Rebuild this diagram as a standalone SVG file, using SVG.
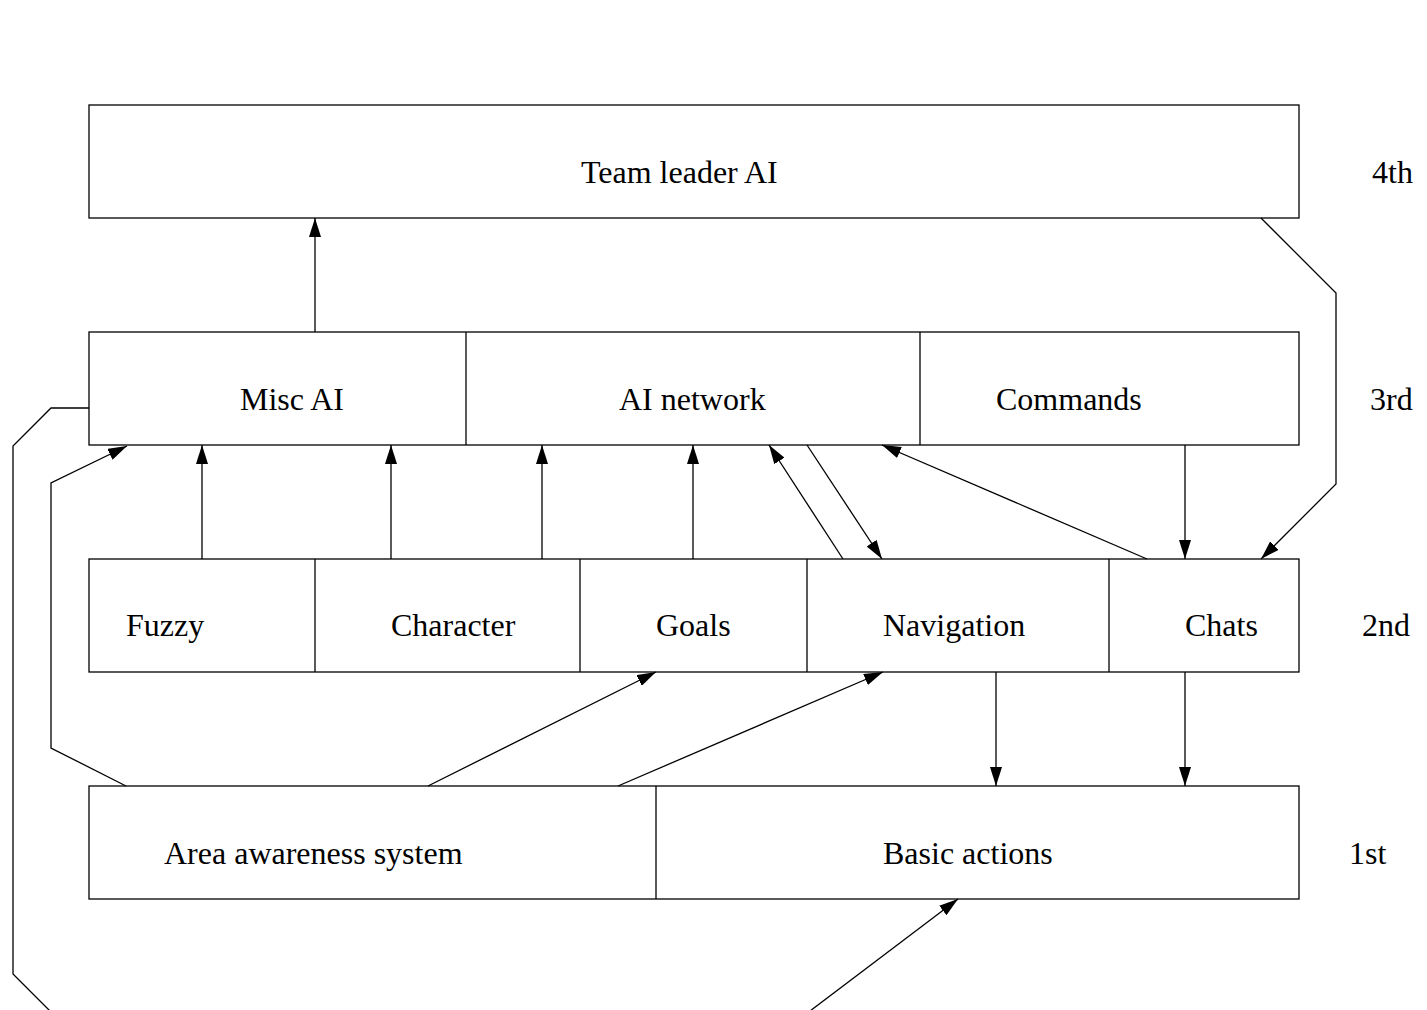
<svg xmlns="http://www.w3.org/2000/svg" width="1427" height="1010" viewBox="0 0 1427 1010">
<style>
.b{fill:#fff;stroke:#000;stroke-width:1.3}
.d{stroke:#000;stroke-width:1.3}
text{font-family:"Liberation Serif","Times New Roman",serif;font-size:32px;fill:#000}
.c path{fill:none;stroke:#000;stroke-width:1.3}
</style>
<defs>
<marker id="a" viewBox="0 0 19 12" refX="19" refY="6" markerWidth="19" markerHeight="12" markerUnits="userSpaceOnUse" orient="auto"><path d="M0,0 L19,6 L0,12 z" fill="#000"/></marker>
</defs>
<rect width="1427" height="1010" fill="#fff"/>
<g id="team-leader"><rect class="b" x="89" y="105" width="1210" height="113"/><text x="581" y="183">Team leader AI</text></g>
<g id="row3">
<rect class="b" x="89" y="332" width="1210" height="113"/>
<line class="d" x1="466" y1="332" x2="466" y2="445"/>
<line class="d" x1="920" y1="332" x2="920" y2="445"/>
</g>
<g id="misc-ai"><text x="240" y="410">Misc AI</text></g>
<g id="ai-network"><text x="619" y="410">AI network</text></g>
<g id="commands"><text x="996" y="410">Commands</text></g>
<g id="row2">
<rect class="b" x="89" y="559" width="1210" height="113"/>
<line class="d" x1="315" y1="559" x2="315" y2="672"/>
<line class="d" x1="580" y1="559" x2="580" y2="672"/>
<line class="d" x1="807" y1="559" x2="807" y2="672"/>
<line class="d" x1="1109" y1="559" x2="1109" y2="672"/>
</g>
<g id="fuzzy"><text x="126" y="636">Fuzzy</text></g>
<g id="character"><text x="391" y="636">Character</text></g>
<g id="goals"><text x="656" y="636">Goals</text></g>
<g id="navigation"><text x="883" y="636">Navigation</text></g>
<g id="chats"><text x="1185" y="636">Chats</text></g>
<g id="row1">
<rect class="b" x="89" y="786" width="1210" height="113"/>
<line class="d" x1="656" y1="786" x2="656" y2="899"/>
</g>
<g id="area-awareness"><text x="164" y="864">Area awareness system</text></g>
<g id="basic-actions"><text x="883" y="864">Basic actions</text></g>
<g id="labels">
<text x="1372" y="183">4th</text>
<text x="1370" y="410">3rd</text>
<text x="1362" y="636">2nd</text>
<text x="1349" y="864">1st</text>
</g>
<g class="c" id="connectors">
<path d="M315,332 L315,218" marker-end="url(#a)"/>
<path d="M1261,218 L1336,293 L1336,484 L1261,559" marker-end="url(#a)"/>
<path d="M89,408 L51,408 L13,446 L13,974 L50,1011"/>
<path d="M126,786 L51,748 L51,483 L127,446" marker-end="url(#a)"/>
<path d="M202,559 L202,445" marker-end="url(#a)"/>
<path d="M391,559 L391,445" marker-end="url(#a)"/>
<path d="M542,559 L542,445" marker-end="url(#a)"/>
<path d="M693,559 L693,445" marker-end="url(#a)"/>
<path d="M843,559 L769,445" marker-end="url(#a)"/>
<path d="M807,445 L882,559" marker-end="url(#a)"/>
<path d="M1147,559 L882,445" marker-end="url(#a)"/>
<path d="M1185,445 L1185,559" marker-end="url(#a)"/>
<path d="M996,672 L996,786" marker-end="url(#a)"/>
<path d="M1185,672 L1185,786" marker-end="url(#a)"/>
<path d="M428,786 L656,672" marker-end="url(#a)"/>
<path d="M618,786 L883,672" marker-end="url(#a)"/>
<path d="M810,1011 L958,899" marker-end="url(#a)"/>
</g>
</svg>
